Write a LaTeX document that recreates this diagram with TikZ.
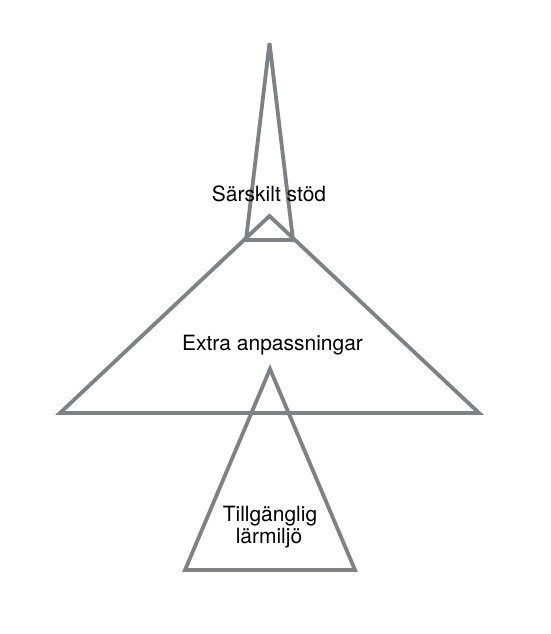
\documentclass[tikz,border=0pt]{standalone}
\usepackage{fontspec}
\setmainfont{TeX Gyre Heros}
\definecolor{linegray}{RGB}{128,129,134}
\begin{document}
\begin{tikzpicture}[x=1pt,y=-1pt,
  tri/.style={draw=linegray,line width=3.8pt,line join=miter},
  lbl/.style={font=\fontsize{21}{22}\selectfont,text=black,inner sep=0pt,anchor=base},
]
\useasboundingbox[fill=white] (0,0) rectangle (550,634);
% thin spire
\draw[tri,line join=bevel] (269.5,43) -- (293,240) -- (246,240) -- cycle;
% big triangle
\draw[tri] (269.5,216) -- (479,413) -- (60,413) -- cycle;
% cross line
\draw[tri] (244,240) -- (295,240);
% bottom triangle
\draw[tri] (270,369) -- (355,570) -- (185,570) -- cycle;
% labels
\node[lbl] (sarskilt) at (269,201) {Särskilt stöd};
\node[lbl] (extra) at (272.5,350) {Extra anpassningar};
\node[lbl] (tillg) at (270,521.5) {Tillgänglig};
\node[lbl] (larm) at (269,543) {lärmiljö};
\end{tikzpicture}
\end{document}
